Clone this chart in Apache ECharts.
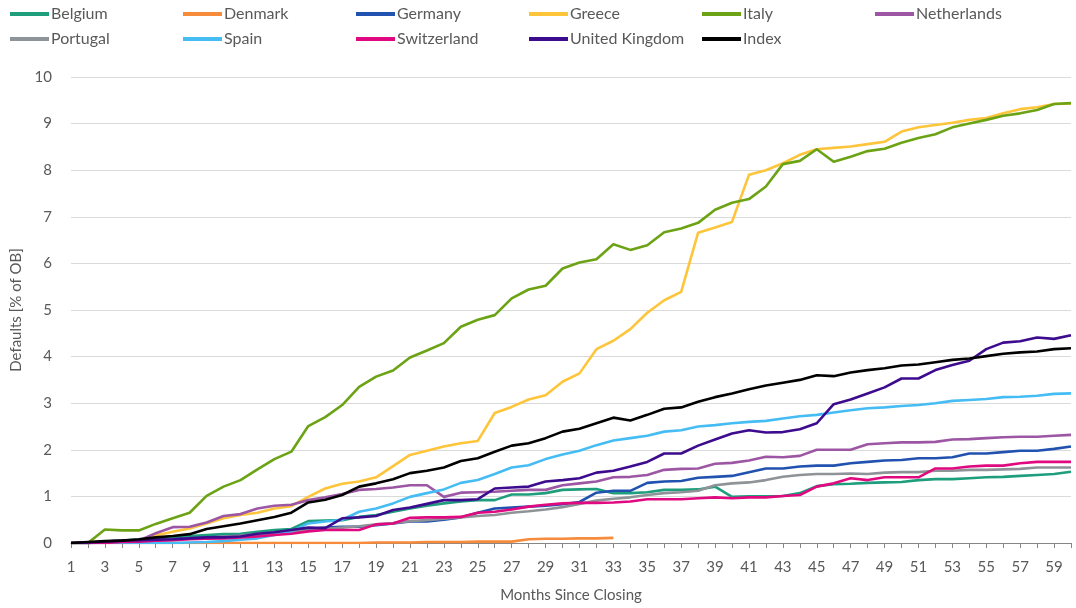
<!DOCTYPE html>
<html>
<head>
<meta charset="utf-8">
<title>Defaults by country</title>
<script src="https://cdn.jsdelivr.net/npm/echarts@6/dist/echarts.min.js"></script>
<style>
  html, body { margin: 0; padding: 0; background: #fff; }
  #chart { width: 1076px; height: 608px; }
</style>
</head>
<body>
<div id="chart"></div>
<script>
// Months since closing: 1..60
const months = [
  1,2,3,4,5,6,7,8,9,10,11,12,13,14,15,16,17,18,19,20,
  21,22,23,24,25,26,27,28,29,30,31,32,33,34,35,36,37,38,39,40,
  41,42,43,44,45,46,47,48,49,50,51,52,53,54,55,56,57,58,59,60
];

// Cumulative defaults, % of original balance
const belgium = [
  0, 0, 0.03, 0.05, 0.07, 0.1, 0.12, 0.15, 0.17, 0.19,
  0.2, 0.24, 0.28, 0.3, 0.47, 0.48, 0.49, 0.56, 0.6, 0.67,
  0.74, 0.8, 0.85, 0.89, 0.92, 0.92, 1.04, 1.04, 1.07, 1.14,
  1.15, 1.16, 1.07, 1.07, 1.09, 1.14, 1.14, 1.15, 1.21, 0.99,
  1.0, 1.0, 1.01, 1.07, 1.22, 1.26, 1.27, 1.29, 1.3, 1.31,
  1.35, 1.37, 1.37, 1.39, 1.41, 1.42, 1.44, 1.46, 1.48, 1.53
];
const denmark = [
  0, 0, 0, 0, 0, 0, 0, 0, 0, 0,
  0, 0, 0, 0, 0, 0, 0, 0, 0.01, 0.01,
  0.01, 0.02, 0.02, 0.02, 0.03, 0.03, 0.03, 0.08, 0.09, 0.09,
  0.1, 0.1, 0.11
];
const germany = [
  0, 0, 0.02, 0.04, 0.05, 0.07, 0.08, 0.1, 0.12, 0.14,
  0.16, 0.18, 0.22, 0.26, 0.3, 0.33, 0.35, 0.35, 0.38, 0.42,
  0.46, 0.46, 0.5, 0.55, 0.65, 0.74, 0.76, 0.78, 0.8, 0.83,
  0.88, 1.08, 1.12, 1.12, 1.29, 1.32, 1.33, 1.4, 1.42, 1.44,
  1.52, 1.6, 1.6, 1.64, 1.66, 1.66, 1.71, 1.74, 1.77, 1.78,
  1.82, 1.82, 1.84, 1.92, 1.92, 1.95, 1.98, 1.98, 2.02, 2.07
];
const greece = [
  0, 0, 0.01, 0.02, 0.05, 0.16, 0.24, 0.31, 0.42, 0.53,
  0.6, 0.65, 0.74, 0.79, 0.99, 1.17, 1.27, 1.32, 1.41, 1.65,
  1.89, 1.98, 2.07, 2.14, 2.19, 2.79, 2.92, 3.08, 3.17, 3.46,
  3.64, 4.16, 4.34, 4.59, 4.94, 5.21, 5.39, 6.66, 6.77, 6.89,
  7.9, 8.0, 8.15, 8.33, 8.45, 8.48, 8.51, 8.56, 8.61, 8.83,
  8.92, 8.97, 9.02, 9.08, 9.12, 9.22, 9.31, 9.35, 9.42, 9.43
];
const italy = [
  0, 0, 0.29, 0.27, 0.27, 0.41, 0.53, 0.65, 1.01, 1.21,
  1.35, 1.58, 1.8, 1.96, 2.51, 2.7, 2.96, 3.35, 3.57, 3.7,
  3.98, 4.13, 4.29, 4.64, 4.79, 4.89, 5.25, 5.44, 5.52, 5.89,
  6.02, 6.09, 6.41, 6.29, 6.39, 6.67, 6.75, 6.87, 7.15, 7.3,
  7.38, 7.65, 8.13, 8.2, 8.45, 8.18, 8.29, 8.41, 8.46, 8.59,
  8.69, 8.77, 8.92, 9.0, 9.08, 9.17, 9.22, 9.29, 9.42, 9.44
];
const netherlands = [
  0, 0, 0.01, 0.02, 0.05, 0.21, 0.34, 0.35, 0.44, 0.58,
  0.62, 0.74, 0.8, 0.82, 0.92, 0.98, 1.05, 1.14, 1.16, 1.19,
  1.24, 1.24, 0.99, 1.08, 1.09, 1.1, 1.12, 1.14, 1.14, 1.24,
  1.28, 1.32, 1.41, 1.42, 1.46, 1.57, 1.59, 1.6, 1.7, 1.72,
  1.77, 1.85, 1.84, 1.87, 2.0, 2.0, 2.0, 2.12, 2.14, 2.16,
  2.16, 2.17, 2.22, 2.23, 2.25, 2.27, 2.28, 2.28, 2.3, 2.32
];
const portugal = [
  0, 0, 0.01, 0.02, 0.03, 0.05, 0.07, 0.09, 0.11, 0.14,
  0.16, 0.19, 0.21, 0.24, 0.27, 0.3, 0.33, 0.36, 0.4, 0.43,
  0.47, 0.49, 0.52, 0.55, 0.58, 0.6, 0.65, 0.68, 0.72, 0.77,
  0.84, 0.91, 0.95, 0.98, 1.03, 1.07, 1.09, 1.12, 1.24, 1.28,
  1.3, 1.35, 1.42, 1.46, 1.48, 1.48, 1.49, 1.48, 1.51, 1.52,
  1.52, 1.55, 1.55, 1.57, 1.57, 1.58, 1.59, 1.62, 1.62, 1.62
];
const spain = [
  0, 0, 0, 0, 0, 0, 0, 0.01, 0.02, 0.04,
  0.07, 0.1, 0.17, 0.25, 0.42, 0.46, 0.5, 0.67, 0.74, 0.85,
  0.99, 1.07, 1.15, 1.29, 1.35, 1.48, 1.62, 1.67, 1.8, 1.9,
  1.98, 2.1, 2.2, 2.25, 2.3, 2.39, 2.42, 2.5, 2.53, 2.57,
  2.6, 2.62, 2.67, 2.72, 2.75, 2.8, 2.85, 2.89, 2.91, 2.94,
  2.96, 3.0, 3.05, 3.07, 3.09, 3.13, 3.14, 3.16, 3.2, 3.21
];
const switzerland = [
  0, 0, 0, 0.02, 0.03, 0.05, 0.06, 0.08, 0.09, 0.1,
  0.12, 0.14, 0.17, 0.2, 0.25, 0.28, 0.28, 0.28, 0.4, 0.42,
  0.54, 0.55, 0.55, 0.56, 0.65, 0.67, 0.72, 0.78, 0.82, 0.85,
  0.86, 0.86, 0.87, 0.89, 0.94, 0.94, 0.94, 0.96, 0.98, 0.96,
  0.98, 0.98, 1.01, 1.03, 1.21, 1.28, 1.39, 1.35, 1.41, 1.41,
  1.41, 1.6, 1.6, 1.64, 1.66, 1.66, 1.71, 1.74, 1.74, 1.74
];
const unitedKingdom = [
  0, 0.01, 0.03, 0.05, 0.06, 0.07, 0.08, 0.1, 0.12, 0.12,
  0.14, 0.2, 0.23, 0.28, 0.33, 0.32, 0.53, 0.55, 0.58, 0.71,
  0.76, 0.84, 0.92, 0.92, 0.94, 1.17, 1.19, 1.21, 1.32, 1.35,
  1.39, 1.51, 1.55, 1.64, 1.74, 1.92, 1.92, 2.09, 2.22, 2.35,
  2.42, 2.37, 2.38, 2.44, 2.57, 2.98, 3.08, 3.21, 3.34, 3.53,
  3.53, 3.71, 3.82, 3.91, 4.16, 4.3, 4.33, 4.41, 4.38, 4.46
];
const index = [
  0, 0.02, 0.04, 0.05, 0.08, 0.12, 0.15, 0.19, 0.3, 0.36,
  0.42, 0.49, 0.56, 0.65, 0.87, 0.93, 1.03, 1.21, 1.28, 1.37,
  1.5, 1.55, 1.62, 1.76, 1.82, 1.96, 2.09, 2.14, 2.25, 2.39,
  2.45, 2.57, 2.69, 2.63, 2.75, 2.88, 2.91, 3.03, 3.13, 3.21,
  3.3, 3.38, 3.44, 3.5, 3.6, 3.58, 3.66, 3.71, 3.75, 3.81,
  3.83, 3.88, 3.93, 3.96, 4.01, 4.06, 4.09, 4.11, 4.16, 4.18
];

const seriesDefs = [
  { name: 'Belgium',        data: belgium,       color: '#1E9E7C' },
  { name: 'Denmark',        data: denmark,       color: '#F68B3C' },
  { name: 'Germany',        data: germany,       color: '#2152B0' },
  { name: 'Greece',         data: greece,        color: '#FEC43A' },
  { name: 'Italy',          data: italy,         color: '#6BA315' },
  { name: 'Netherlands',    data: netherlands,   color: '#9C56A3' },
  { name: 'Portugal',       data: portugal,      color: '#8E9398' },
  { name: 'Spain',          data: spain,         color: '#45BDF4' },
  { name: 'Switzerland',    data: switzerland,   color: '#E1097F' },
  { name: 'United Kingdom', data: unitedKingdom, color: '#3D0B8E' },
  { name: 'Index',          data: index,         color: '#000000' }
];

const FONT = 'Lato, "Open Sans", sans-serif';
const TEXT_COLOR = '#595959';

// Legend laid out as a 6-column grid: one legend component per entry
const LEGEND_COLS = 6;
const LEGEND_LEFT = 10;
const LEGEND_COL_W = 173;
const LEGEND_TOP = 6;
const LEGEND_ROW_H = 25;

const legends = seriesDefs.map((s, i) => ({
  left: LEGEND_LEFT + (i % LEGEND_COLS) * LEGEND_COL_W,
  top: LEGEND_TOP + Math.floor(i / LEGEND_COLS) * LEGEND_ROW_H,
  data: [s.name],
  icon: 'rect',
  itemWidth: 39,
  itemHeight: 4,
  padding: 0,
  textStyle: { fontFamily: FONT, fontSize: 16, color: TEXT_COLOR, padding: [0, 0, 0, -3] },
  selectedMode: false
}));

const chart = echarts.init(document.getElementById('chart'), null, { renderer: 'canvas' });

chart.setOption({
  animation: false,
  backgroundColor: '#ffffff',
  color: seriesDefs.map(s => s.color),
  legend: legends,
  grid: { left: 71, right: 5, top: 77, bottom: 65 },
  xAxis: {
    type: 'category',
    data: months,
    boundaryGap: false,
    name: 'Months Since Closing',
    nameLocation: 'middle',
    nameGap: 45,
    nameTextStyle: { fontFamily: FONT, fontSize: 15, color: TEXT_COLOR },
    axisLine: { lineStyle: { color: '#868686', width: 1 } },
    axisTick: { show: true, interval: 0, length: 5, lineStyle: { color: '#868686' } },
    axisLabel: { interval: 1, margin: 17, fontFamily: FONT, fontSize: 15, color: TEXT_COLOR },
    splitLine: { show: false }
  },
  yAxis: {
    type: 'value',
    min: 0,
    max: 10,
    interval: 1,
    name: 'Defaults [% of OB]',
    nameLocation: 'middle',
    nameGap: 46,
    nameRotate: 90,
    nameTextStyle: { fontFamily: FONT, fontSize: 15, color: TEXT_COLOR },
    axisLine: { show: false },
    axisTick: { show: false },
    axisLabel: { margin: 19, fontFamily: FONT, fontSize: 15, color: TEXT_COLOR },
    splitLine: { lineStyle: { color: '#DADADA', width: 1 } }
  },
  series: seriesDefs.map(s => ({
    name: s.name,
    type: 'line',
    data: s.data,
    symbol: 'none',
    smooth: false,
    lineStyle: { width: 2.6, color: s.color, join: 'round' },
    itemStyle: { color: s.color },
    emphasis: { disabled: true }
  }))
});
</script>
</body>
</html>
